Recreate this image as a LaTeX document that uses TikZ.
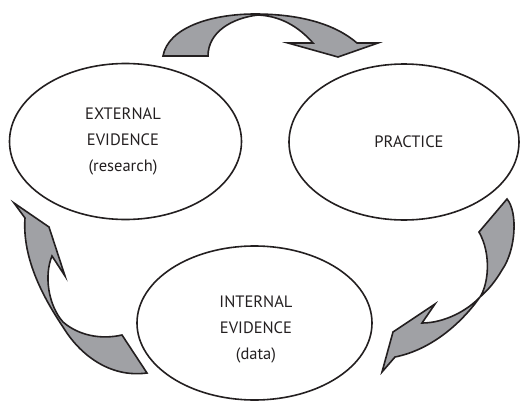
\documentclass[tikz,border=0pt]{standalone}
\usepackage{fontspec}
\setmainfont{PT Sans}
\definecolor{arrowgray}{HTML}{A0A1A5}
\definecolor{ink}{HTML}{231F20}
\begin{document}
\begin{tikzpicture}[x=1pt,y=-1pt,
  bubble/.style={draw=ink,line width=1.6pt,ellipse},
  lbl/.style={font=\fontsize{16.5}{26}\selectfont,text=ink,align=center},
  block/.style={draw=ink,fill=arrowgray,line width=1.6pt,line join=miter}]
\useasboundingbox (0,0) rectangle (520,402);
% ellipses
\draw[draw=ink,line width=1.6pt] (125.5,141.5) ellipse [x radius=116, y radius=78];
\draw[draw=ink,line width=1.6pt] (404,142) ellipse [x radius=115, y radius=78];
\draw[draw=ink,line width=1.6pt] (254.5,323) ellipse [x radius=117.5, y radius=77];
% labels
\node[lbl] (ext) at (123,141) {EXTERNAL\\EVIDENCE\\(research)};
\node[lbl] (prac) at (409,142) {PRACTICE};
\node[lbl] (int) at (256,329) {INTERNAL\\EVIDENCE\\(data)};
% top arrow
\draw[block] (163,56) .. controls (168,28) and (210,14) .. (255,14)
  .. controls (300,14) and (335,24) .. (357,43) -- (378,43) -- (338,57) -- (288,43) -- (313,43)
  .. controls (298,26) and (280,16) .. (258,15)
  .. controls (232,18) and (208,32) .. (208,56) -- cycle;
% right arrow
\draw[block] (507,199) .. controls (518,212) and (516,250) .. (502,270)
  .. controls (495,282) and (488,290) .. (480,297)
  .. controls (460,325) and (430,350) .. (395,357)
  -- (382,372) -- (393,332) -- (435,304) -- (422,323)
  .. controls (445,323) and (468,310) .. (480,297)
  .. controls (488,285) and (492,255) .. (479,232) -- cycle;
% left arrow
\draw[block] (14,203) -- (49,227) -- (65,276) -- (52,256)
  .. controls (44,275) and (48,305) .. (63,322)
  .. controls (78,335) and (100,340) .. (122,335)
  -- (147,373)
  .. controls (110,378) and (80,355) .. (63,327)
  .. controls (45,300) and (22,260) .. (25,218) -- cycle;
\end{tikzpicture}
\end{document}
